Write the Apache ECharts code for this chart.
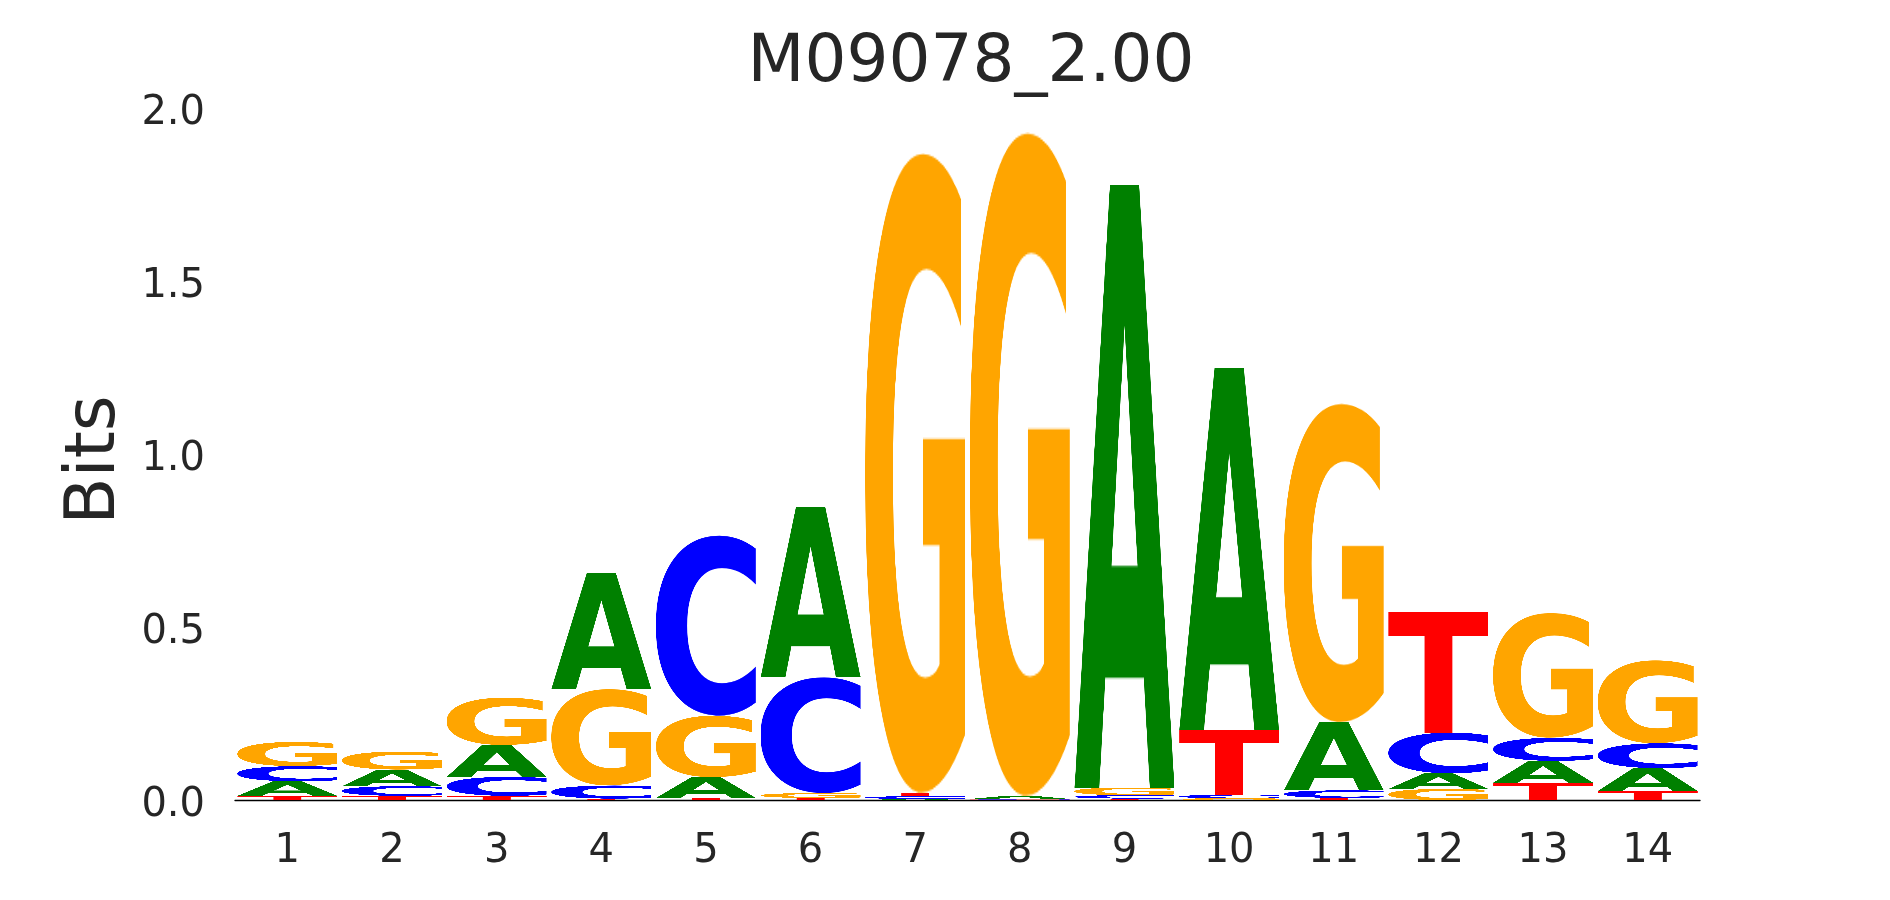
<!DOCTYPE html>
<html>
<head>
<meta charset="utf-8">
<script src="https://cdn.jsdelivr.net/npm/echarts@6/dist/echarts.min.js"></script>
<style>
html,body{margin:0;padding:0;background:#ffffff;}
#chart{width:1890px;height:900px;}
</style>
</head>
<body>
<div id="chart"></div>
<script>
// ---- data (bits per letter at each position) ----
const positions = ['1','2','3','4','5','6','7','8','9','10','11','12','13','14'];
const bitsA = [0.042, 0.048, 0.092, 0.334, 0.060, 0.492, 0.003, 0.009, 1.741, 1.047, 0.197, 0.045, 0.063, 0.066];
const bitsC = [0.044, 0.028, 0.055, 0.038, 0.521, 0.335, 0.008, 0.002, 0.010, 0.010, 0.022, 0.118, 0.067, 0.072];
const bitsG = [0.070, 0.052, 0.137, 0.279, 0.178, 0.014, 1.850, 1.918, 0.022, 0.005, 0.921, 0.032, 0.361, 0.240];
const bitsT = [0.012, 0.012, 0.012, 0.004, 0.006, 0.006, 0.010, 0.001, 0.004, 0.186, 0.006, 0.347, 0.050, 0.026];
const letters = ['A', 'C', 'G', 'T'];
const letterColors = ['#008000', '#0000ff', '#ffa500', '#ff0000'];
const yTickLabels = ['0.0', '0.5', '1.0', '1.5', '2.0'];
const chartTitle = 'M09078_2.00';
const yName = 'Bits';

const TEXT = '#262626';
const FONT = '"DejaVu Sans", "Liberation Sans", sans-serif';

// Render each letter once, cropped to its ink box, so it can be stretched to fill a box.
function makeGlyph(ch, color) {
  const S = 700;
  const c = document.createElement('canvas');
  c.width = S; c.height = S;
  const ctx = c.getContext('2d');
  ctx.font = 'bold 480px "DejaVu Sans"';
  ctx.fillStyle = color;
  ctx.textBaseline = 'alphabetic';
  ctx.fillText(ch, 120, 560);
  const d = ctx.getImageData(0, 0, S, S).data;
  let x0 = S, y0 = S, x1 = -1, y1 = -1;
  for (let y = 0; y < S; y++) {
    for (let x = 0; x < S; x++) {
      if (d[(y * S + x) * 4 + 3] > 60) {
        if (x < x0) x0 = x; if (x > x1) x1 = x;
        if (y < y0) y0 = y; if (y > y1) y1 = y;
      }
    }
  }
  const w = x1 - x0 + 1, h = y1 - y0 + 1;
  const o = document.createElement('canvas');
  o.width = w; o.height = h;
  o.getContext('2d').drawImage(c, x0, y0, w, h, 0, 0, w, h);
  return o;
}
const glyphs = letters.map((l, k) => makeGlyph(l, letterColors[k]));

// Build stacked boxes: smallest letter at the bottom.
const seriesByLetter = [bitsA, bitsC, bitsG, bitsT];
const boxes = [];
positions.forEach((p, i) => {
  const order = [0, 1, 2, 3].sort((a, b) => seriesByLetter[a][i] - seriesByLetter[b][i]);
  let base = 0;
  order.forEach(k => {
    const v = seriesByLetter[k][i];
    boxes.push([i, base, base + v, k]);
    base += v;
  });
});

const chart = echarts.init(document.getElementById('chart'), null, {renderer: 'canvas'});
chart.setOption({
  animation: false,
  backgroundColor: '#ffffff',
  title: {
    text: chartTitle,
    left: 966,
    top: 26,
    textAlign: 'center',
    textStyle: {fontFamily: FONT, fontSize: 66, fontWeight: 'normal', color: TEXT}
  },
  grid: {left: 235, right: 190, top: 108, bottom: 100},
  xAxis: {
    type: 'category',
    data: positions,
    boundaryGap: true,
    axisTick: {show: false},
    axisLine: {show: true, lineStyle: {color: '#000000', width: 1.3}},
    axisLabel: {fontFamily: FONT, fontSize: 40, color: TEXT, margin: 32},
    splitLine: {show: false}
  },
  yAxis: {
    type: 'value',
    min: 0,
    max: 2,
    interval: 0.5,
    name: yName,
    nameLocation: 'middle',
    nameRotate: 90,
    nameGap: 101,
    nameTextStyle: {fontFamily: FONT, fontSize: 69, color: TEXT, padding: [0, 12, 0, 0]},
    axisLine: {show: false},
    axisTick: {show: false},
    splitLine: {show: false},
    axisLabel: {
      fontFamily: FONT, fontSize: 40, color: TEXT, margin: 30,
      verticalAlign: 'top', lineHeight: 12,
      formatter: v => yTickLabels[Math.round(v / 0.5)]
    }
  },
  series: [{
    type: 'custom',
    data: boxes,
    encode: {x: 0, y: [1, 2]},
    renderItem: function (params, api) {
      const i = api.value(0);
      const b = api.value(1);
      const t = api.value(2);
      const k = api.value(3);
      const p0 = api.coord([i, b]);
      const p1 = api.coord([i, t]);
      const bw = api.size([1, 0])[0] * 0.955;
      const h = p0[1] - p1[1];
      if (h <= 0) return null;
      return {
        type: 'image',
        style: {image: glyphs[k], x: p0[0] - bw / 2, y: p1[1], width: bw, height: h}
      };
    }
  }]
});
</script>
</body>
</html>
